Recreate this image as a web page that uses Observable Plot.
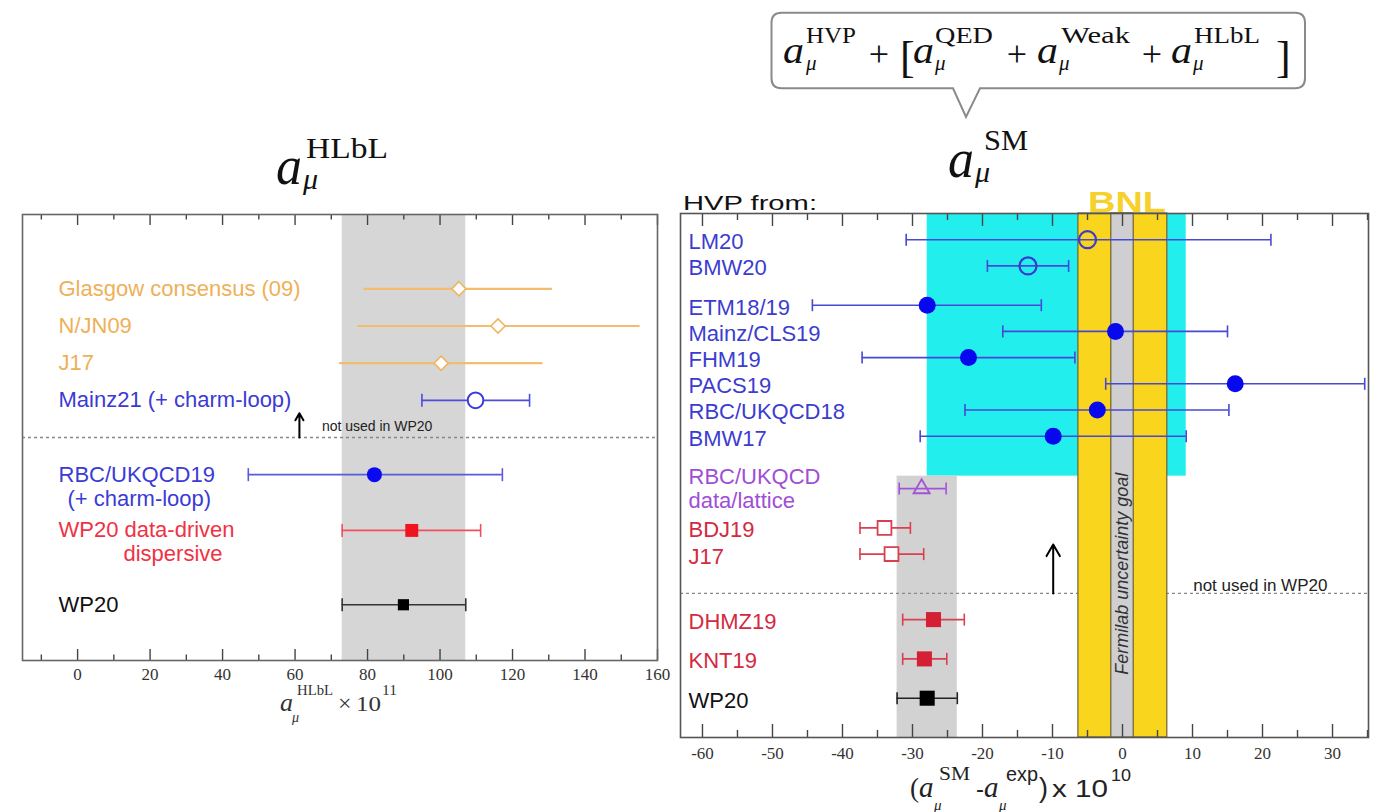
<!DOCTYPE html>
<html><head><meta charset="utf-8">
<script src="https://cdn.jsdelivr.net/npm/d3@7"></script>
<script src="https://cdn.jsdelivr.net/npm/@observablehq/plot@0.6"></script>
<style>
html,body{margin:0;padding:0;background:#fff;}
#wrap{position:relative;width:1384px;height:812px;overflow:hidden;background:#fff;}
#left{position:absolute;left:0;top:0;}
#right{position:absolute;left:670px;top:0;}
#overlay{position:absolute;left:0;top:0;pointer-events:none;}
</style></head><body>
<div id="wrap"><div id="left"></div><div id="right"></div><svg id="overlay" width="1384" height="812"></svg></div>
<script>
// ---------------- DATA: left panel, a_mu^HLbL x 10^11 ----------------
const hlblNames = ["Glasgow consensus (09)", "N/JN09", "J17", "Mainz21 (+ charm-loop)", "RBC/UKQCD19", "WP20 data-driven", "WP20"];
const hlblSubLabel = ["", "", "", "", "(+ charm-loop)", "dispersive", ""];
const hlblValue = [105.2, 116.0, 100.3, 109.8, 81.9, 92.2, 89.9];
const hlblLow   = [79.0, 77.3, 72.3, 95.0, 47.1, 73.0, 73.0];
const hlblHigh  = [131.0, 155.2, 128.4, 124.7, 117.2, 111.2, 107.1];
const hlblGroup = ["model", "model", "model", "latticeOpen", "lattice", "dispersive", "wp20"];
const hlblTicks = [0, 20, 40, 60, 80, 100, 120, 140, 160];

// ---------------- DATA: right panel, (a_mu^SM - a_mu^exp) x 10^10 ----------------
const hvpNames = ["LM20", "BMW20", "ETM18/19", "Mainz/CLS19", "FHM19", "PACS19", "RBC/UKQCD18", "BMW17", "RBC/UKQCD data/lattice", "BDJ19", "J17", "DHMZ19", "KNT19", "WP20"];
const hvpLabels = ["LM20", "BMW20", "ETM18/19", "Mainz/CLS19", "FHM19", "PACS19", "RBC/UKQCD18", "BMW17", "RBC/UKQCD\ndata/lattice", "BDJ19", "J17", "DHMZ19", "KNT19", "WP20"];
const hvpValue = [-5.0, -13.5, -27.9, -1.0, -22.0, 16.1, -3.6, -9.9, -28.7, -34.0, -33.0, -27.0, -28.3, -27.9];
const hvpLow   = [-30.9, -19.3, -44.3, -17.1, -37.2, -2.4, -22.5, -28.9, -31.9, -37.5, -37.5, -31.4, -31.4, -32.2];
const hvpHigh  = [21.2, -7.7, -11.6, 15.0, -6.8, 34.6, 15.2, 9.1, -25.2, -30.3, -28.4, -22.6, -25.1, -23.6];
const hvpGroup = ["latticeOpen", "latticeOpen", "lattice", "lattice", "lattice", "lattice", "lattice", "lattice", "hybrid", "dataOpen", "dataOpen", "data", "data", "wp20"];
const latticeRange = [-27.9, 9.1];     // cyan region
const bnlBand = [-6.3, 6.4];           // BNL
const fermilabGoal = [-1.6, 1.6];      // Fermilab uncertainty goal
const hvpTicks = [-60, -50, -40, -30, -20, -10, 0, 10, 20, 30];

// ---------------- LAYOUT (row slots along the y scale) ----------------
const leftRowSlots = [0, 2, 4, 6, 10, 13, 17];
const leftSeparator = 8;
const leftSubDx = {"RBC/UKQCD19": 45, "WP20 data-driven": 101};
const rightRowSlots = [0, 2, 5, 7, 9, 11, 13, 15, 19, 22, 24, 29, 32, 35];
const rightSeparator = 27;
const latticeBoundary = 18.05;

const leftStyle = {
  model:       {text: "#eeb058", line: "#f2bd70", lw: 2.2, symbol: "diamond2", fill: "white", stroke: "#efb55f", r: 6.4, sw: 1.6, cap: false},
  latticeOpen: {text: "#3b3bd4", line: "#4d4dde", lw: 1.6, symbol: "circle", fill: "white", stroke: "#3b3bdc", r: 7.8, sw: 2, cap: true},
  lattice:     {text: "#3b3bd4", line: "#5a5ae0", lw: 1.6, symbol: "circle", fill: "#0a0af2", stroke: "none", r: 7.5, sw: 0, cap: true},
  dispersive:  {text: "#f03245", line: "#f0505e", lw: 1.6, symbol: "square", fill: "#f0141e", stroke: "none", r: 7.3, sw: 0, cap: true},
  wp20:        {text: "#111111", line: "#333333", lw: 1.6, symbol: "square", fill: "#000000", stroke: "none", r: 6.3, sw: 0, cap: true}
};
const rightStyle = {
  latticeOpen: {text: "#3c3cd0", line: "#4848d6", lw: 1.6, symbol: "circle", fill: "none", stroke: "#3a3ad0", r: 8.5, sw: 2.2},
  lattice:     {text: "#3c3cd0", line: "#4848d6", lw: 1.6, symbol: "circle", fill: "#0808ee", stroke: "none", r: 8.5, sw: 0},
  hybrid:      {text: "#a04ed6", line: "#a452d8", lw: 1.6, symbol: "triangle", fill: "none", stroke: "#a452d8", r: 6, sw: 1.8},
  dataOpen:    {text: "#d42a3f", line: "#d8404f", lw: 1.6, symbol: "square", fill: "white", stroke: "#d8404f", r: 7.8, sw: 1.8},
  data:        {text: "#d42a3f", line: "#d8404f", lw: 1.6, symbol: "square", fill: "#d41f35", stroke: "none", r: 8.5, sw: 0},
  wp20:        {text: "#111111", line: "#222222", lw: 1.6, symbol: "square", fill: "#000000", stroke: "none", r: 8.5, sw: 0}
};

const capSymbol = {draw(ctx, size) { const h = Math.sqrt(size / Math.PI); ctx.moveTo(0, -h); ctx.lineTo(0, h); }};
const sans = "Liberation Sans, Arial, Helvetica, sans-serif";
const serif = "Liberation Serif, Times New Roman, serif";

function tickMarks(major, minor, plotH, majorLen, minorLen) {
  const o = {x: d => d, stroke: "#444", strokeWidth: 1.4};
  return [
    Plot.tickX(major, {...o, insetTop: plotH - majorLen}),
    Plot.tickX(major, {...o, insetBottom: plotH - majorLen}),
    Plot.tickX(minor, {...o, insetTop: plotH - minorLen}),
    Plot.tickX(minor, {...o, insetBottom: plotH - minorLen})
  ];
}

function errorMarks(rows, style, capR) {
  const marks = [];
  for (const g of Object.keys(style)) {
    const s = style[g];
    const sub = rows.filter(d => d.group === g);
    if (!sub.length) continue;
    marks.push(Plot.ruleY(sub, {y: "slot", x1: "lo", x2: "hi", stroke: s.line, strokeWidth: s.lw}));
    if (s.cap !== false) {
      const caps = sub.flatMap(d => [{x: d.lo, slot: d.slot}, {x: d.hi, slot: d.slot}]);
      marks.push(Plot.dot(caps, {x: "x", y: "slot", symbol: capSymbol, r: capR, fill: "none", stroke: s.line, strokeWidth: s.lw}));
    }
  }
  for (const g of Object.keys(style)) {
    const s = style[g];
    const sub = rows.filter(d => d.group === g);
    if (!sub.length) continue;
    marks.push(Plot.dot(sub, {x: "value", y: "slot", symbol: s.symbol, r: s.r, fill: s.fill, stroke: s.stroke, strokeWidth: s.sw}));
  }
  return marks;
}

// ---------------- LEFT PANEL ----------------
const L = {width: 670, height: 812, mt: 214, mb: 152, ml: 22, mr: 13};
const LplotH = L.height - L.mt - L.mb;
const leftRows = hlblNames.map((name, i) => ({name, sub: hlblSubLabel[i], value: hlblValue[i], lo: hlblLow[i], hi: hlblHigh[i], group: hlblGroup[i], slot: leftRowSlots[i]}));
const wpL = leftRows.find(d => d.name === "WP20");
const subLabelMarks = leftRows.filter(d => d.sub).map(d =>
  Plot.text([d], {y: "slot", text: "sub", frameAnchor: "left", dx: leftSubDx[d.name], dy: 24, textAnchor: "start", fontSize: 22, fontFamily: sans, fill: leftStyle[d.group].text}));
const leftPlot = Plot.plot({
  width: L.width, height: L.height,
  marginTop: L.mt, marginBottom: L.mb, marginLeft: L.ml, marginRight: L.mr,
  x: {domain: [-15.2, 160]},
  y: {domain: [-4, 20], reverse: true, axis: null},
  style: {background: "transparent", fontFamily: serif, overflow: "visible"},
  marks: [
    Plot.rect([wpL], {x1: "lo", x2: "hi", fill: "#d6d6d6"}),
    Plot.ruleY([leftSeparator], {stroke: "#888", strokeWidth: 1.3, strokeDasharray: "3,3"}),
    ...errorMarks(leftRows, leftStyle, 6.5),
    ...Object.keys(leftStyle).map(g => Plot.text(leftRows.filter(d => d.group === g), {y: "slot", text: "name", frameAnchor: "left", dx: 36, textAnchor: "start", fontSize: 22, fontFamily: sans, fill: leftStyle[g].text})),
    ...subLabelMarks,
    Plot.arrow([{x: 61.2, from: leftSeparator, to: 6.7}], {x1: "x", x2: "x", y1: "from", y2: "to", stroke: "#000", strokeWidth: 2, headLength: 9}),
    Plot.text([{x: 67.4, slot: 7.4, t: "not used in WP20"}], {x: "x", y: "slot", text: "t", textAnchor: "start", fontSize: 14, fontFamily: sans, fill: "#222"}),
    ...tickMarks(hlblTicks, d3.range(-10, 160, 20), LplotH, 11, 5.5),
    Plot.axisX({ticks: hlblTicks, tickSize: 0, tickPadding: 7, tickFormat: d => String(d), fontSize: 17, fontFamily: serif, fill: "#333", label: null}),
    Plot.frame({stroke: "#666", strokeWidth: 1.6})
  ]
});
document.getElementById("left").appendChild(leftPlot);

// ---------------- RIGHT PANEL ----------------
const R = {width: 714, height: 812, mt: 213, mb: 75, ml: 10, mr: 16};
const RplotH = R.height - R.mt - R.mb;
const rYDomain = [-2, 38];
const rightRows = hvpNames.map((name, i) => ({name, label: hvpLabels[i], value: hvpValue[i], lo: hvpLow[i], hi: hvpHigh[i], group: hvpGroup[i], slot: rightRowSlots[i]}));
const wpR = rightRows.find(d => d.name === "WP20");
const rightPlot = Plot.plot({
  width: R.width, height: R.height,
  marginTop: R.mt, marginBottom: R.mb, marginLeft: R.ml, marginRight: R.mr,
  x: {domain: [-63.14, 35.14]},
  y: {domain: rYDomain, reverse: true, axis: null},
  style: {background: "transparent", fontFamily: serif, overflow: "visible"},
  marks: [
    Plot.rect([{x1: latticeRange[0], x2: latticeRange[1], y1: rYDomain[0], y2: latticeBoundary}], {x1: "x1", x2: "x2", y1: "y1", y2: "y2", fill: "#22eeee"}),
    Plot.rect([{x1: wpR.lo, x2: wpR.hi, y1: latticeBoundary, y2: rYDomain[1]}], {x1: "x1", x2: "x2", y1: "y1", y2: "y2", fill: "#d2d2d2"}),
    Plot.ruleY([rightSeparator], {stroke: "#888", strokeWidth: 1.3, strokeDasharray: "3,3"}),
    Plot.rect([{x1: bnlBand[0], x2: bnlBand[1]}], {x1: "x1", x2: "x2", fill: "#fad51e", stroke: "#6e6033", strokeWidth: 1.2}),
    Plot.rect([{x1: fermilabGoal[0], x2: fermilabGoal[1]}], {x1: "x1", x2: "x2", fill: "#cfcfd1", stroke: "#6e6033", strokeWidth: 1.2}),
    Plot.text([{x: 0, slot: 25.5, t: "Fermilab uncertainty goal"}], {x: "x", y: "slot", text: "t", rotate: -90, fontSize: 18, fontStyle: "italic", fontFamily: sans, fill: "#333"}),
    ...errorMarks(rightRows, rightStyle, 6),
    ...Object.keys(rightStyle).map(g => Plot.text(rightRows.filter(d => d.group === g), {y: "slot", text: "label", frameAnchor: "left", dx: 8, dy: g === "hybrid" ? 0 : 2, textAnchor: "start", fontSize: 22, lineHeight: 1.05, fontFamily: sans, fill: rightStyle[g].text})),
    Plot.arrow([{x: -9.9, from: rightSeparator, to: 23.27}], {x1: "x", x2: "x", y1: "from", y2: "to", stroke: "#000", strokeWidth: 2, headLength: 10}),
    Plot.text([{x: 10.1, slot: 26.4, t: "not used in WP20"}], {x: "x", y: "slot", text: "t", textAnchor: "start", fontSize: 17, fontFamily: sans, fill: "#222"}),
    ...tickMarks(hvpTicks, d3.range(-55, 36, 10), RplotH, 13, 7),
    Plot.axisX({ticks: hvpTicks, tickSize: 0, tickPadding: 9, tickFormat: d => String(d), fontSize: 17, fontFamily: serif, fill: "#333", label: null}),
    Plot.frame({stroke: "#555", strokeWidth: 1.6})
  ]
});
document.getElementById("right").appendChild(rightPlot);
</script>
<script>
// Overlay: titles, formula box, axis titles
const ov = d3.select("#overlay");
function t(x, y, str, o = {}) {
  const el = ov.append("text").attr("x", x).attr("y", y).text(str)
    .attr("font-family", o.family || "Liberation Serif, Times New Roman, serif")
    .attr("font-size", o.size || 20)
    .attr("fill", o.fill || "#111");
  if (o.italic) el.attr("font-style", "italic");
  if (o.bold) el.attr("font-weight", "bold");
  if (o.anchor) el.attr("text-anchor", o.anchor);
  if (o.len) el.attr("textLength", o.len).attr("lengthAdjust", "spacingAndGlyphs");
  return el;
}
// Formula box with pointer
ov.append("path")
  .attr("d", "M781.5,12.7 H1295 Q1305,12.7 1305,22.7 V78.3 Q1305,88.3 1295,88.3 H980 L966,117 L953,88.3 H781.5 Q771.5,88.3 771.5,78.3 V22.7 Q771.5,12.7 781.5,12.7 Z")
  .attr("fill", "white").attr("stroke", "#8a8a8a").attr("stroke-width", 2);
t(783, 63, "a", {italic: true, size: 38, len: 21});
t(806, 43, "HVP", {size: 23, len: 50});
t(806, 70, "μ", {italic: true, size: 21});
t(879, 66, "+", {size: 36, anchor: "middle"});
t(900, 72, "[", {size: 44});
t(913, 63, "a", {italic: true, size: 38, len: 21});
t(935, 43, "QED", {size: 23, len: 58});
t(935, 70, "μ", {italic: true, size: 21});
t(1017, 66, "+", {size: 36, anchor: "middle"});
t(1037, 63, "a", {italic: true, size: 38, len: 21});
t(1061, 43, "Weak", {size: 23, len: 69});
t(1059, 70, "μ", {italic: true, size: 21});
t(1152, 66, "+", {size: 36, anchor: "middle"});
t(1171, 63, "a", {italic: true, size: 38, len: 21});
t(1194, 43, "HLbL", {size: 23, len: 66});
t(1193, 70, "μ", {italic: true, size: 21});
t(1276, 72, "]", {size: 44});

// Panel titles
t(948, 177, "a", {italic: true, size: 54, len: 26});
t(984, 150, "SM", {size: 29, len: 44});
t(975, 182, "μ", {italic: true, size: 30});
t(276, 184, "a", {italic: true, size: 54, len: 26});
t(306, 158, "HLbL", {size: 29, len: 82});
t(303, 189, "μ", {italic: true, size: 30});

// BNL and HVP from:
t(1088, 212, "BNL", {family: "Liberation Sans, Arial, sans-serif", bold: true, size: 29, fill: "#f6d12c", len: 78});
t(683, 210, "HVP from:", {family: "Liberation Sans, Arial, sans-serif", size: 21, fill: "#111", len: 134});

// Left axis title: a_mu^HLbL x 10^11
t(280, 711, "a", {italic: true, size: 26, fill: "#333"});
t(297, 695, "HLbL", {size: 14, len: 36, fill: "#333"});
t(292, 722, "μ", {italic: true, size: 14, fill: "#333"});
t(338, 711, "×", {size: 24, fill: "#333"});
t(356, 711, "10", {size: 22, len: 25, fill: "#333"});
t(382, 695, "11", {size: 14, len: 15, fill: "#333"});

// Right axis title: (a_mu^SM - a_mu^exp) x 10^10
t(910, 797, "(", {size: 27, fill: "#222"});
t(919, 797, "a", {italic: true, size: 29, fill: "#222"});
t(939, 780, "SM", {size: 19, len: 31, fill: "#222"});
t(934, 810, "μ", {italic: true, size: 15, fill: "#222"});
t(976, 797, "-", {family: "Liberation Sans, Arial, sans-serif", size: 24, fill: "#222"});
t(984, 797, "a", {italic: true, size: 29, fill: "#222"});
t(1006, 781, "exp", {family: "Liberation Sans, Arial, sans-serif", size: 20, len: 32, fill: "#222"});
t(999, 810, "μ", {italic: true, size: 15, fill: "#222"});
t(1039, 797, ")", {family: "Liberation Sans, Arial, sans-serif", size: 27, fill: "#222"});
t(1052, 797, "x 10", {family: "Liberation Sans, Arial, sans-serif", size: 24, len: 56, fill: "#222"});
t(1111, 781, "10", {family: "Liberation Sans, Arial, sans-serif", size: 17, len: 20, fill: "#222"});
</script>
</body></html>
